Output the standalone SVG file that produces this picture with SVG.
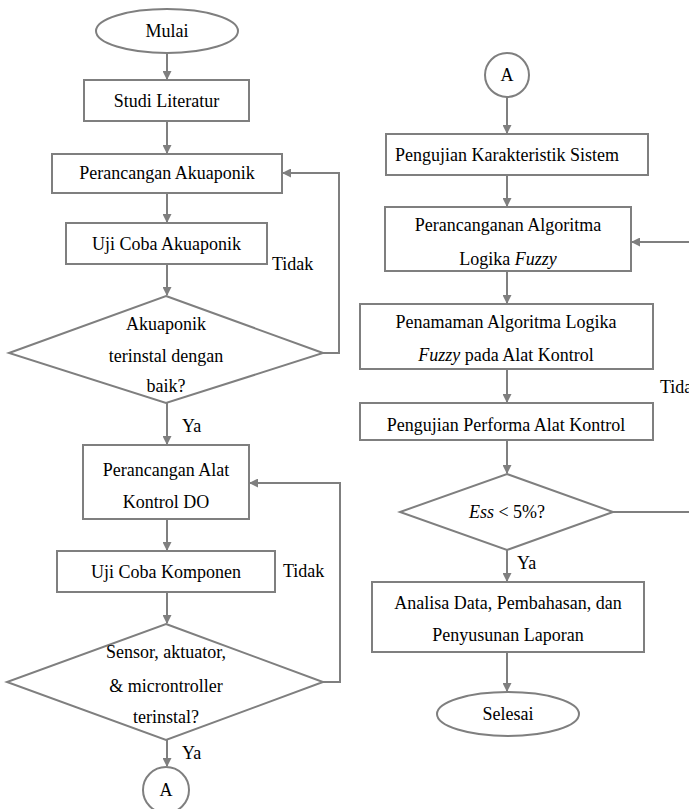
<svg xmlns="http://www.w3.org/2000/svg" width="689" height="809" viewBox="0 0 689 809">
<defs>
<marker id="ah" markerWidth="9" markerHeight="9" refX="8" refY="4.5" orient="auto" markerUnits="userSpaceOnUse"><path d="M0,0 L9,4.5 L0,9 Z" fill="#7f7f7f"/></marker>
</defs>
<rect width="689" height="809" fill="#fff"/>
<g id="connectors" fill="none" stroke="#7f7f7f" stroke-width="2">
<path marker-end="url(#ah)" d="M167,53 V79"/>
<path marker-end="url(#ah)" d="M167,121 V153"/>
<path marker-end="url(#ah)" d="M167,193 V222"/>
<path marker-end="url(#ah)" d="M167,264 V295"/>
<path marker-end="url(#ah)" d="M323,353 H339 V173 H283"/>
<path marker-end="url(#ah)" d="M167,403 V444"/>
<path marker-end="url(#ah)" d="M167,519 V550"/>
<path marker-end="url(#ah)" d="M167,592 V623"/>
<path marker-end="url(#ah)" d="M323,682 H340 V483 H250"/>
<path marker-end="url(#ah)" d="M167,740 V766"/>
<path marker-end="url(#ah)" d="M507,97 V133"/>
<path marker-end="url(#ah)" d="M507,175 V206"/>
<path marker-end="url(#ah)" d="M689,242 H632"/>
<path marker-end="url(#ah)" d="M507,271 V303"/>
<path marker-end="url(#ah)" d="M507,369 V402"/>
<path marker-end="url(#ah)" d="M507,440 V473"/>
<path d="M613,512 H689"/>
<path marker-end="url(#ah)" d="M507,550 V581"/>
<path marker-end="url(#ah)" d="M507,652 V691"/>
</g>
<g id="labels">
<text font-family="Liberation Serif" font-size="18" x="272" y="270">Tidak</text>
<text font-family="Liberation Serif" font-size="18" x="182" y="432">Ya</text>
<text font-family="Liberation Serif" font-size="18" x="283" y="577">Tidak</text>
<text font-family="Liberation Serif" font-size="18" x="182" y="759">Ya</text>
<text font-family="Liberation Serif" font-size="18" x="660" y="393">Tidak</text>
<text font-family="Liberation Serif" font-size="18" x="517" y="569">Ya</text>
</g>
<g id="mulai"><ellipse fill="#fff" stroke="#7f7f7f" stroke-width="2" cx="167" cy="31" rx="71" ry="22"/><text font-family="Liberation Serif" font-size="18" text-anchor="middle" x="167" y="37">Mulai</text></g>
<g id="studi"><rect fill="#fff" stroke="#7f7f7f" stroke-width="2" x="84" y="80" width="165" height="41"/><text font-family="Liberation Serif" font-size="18" text-anchor="middle" x="166.5" y="107">Studi Literatur</text></g>
<g id="perancangan-akuaponik"><rect fill="#fff" stroke="#7f7f7f" stroke-width="2" x="52" y="154" width="230" height="39"/><text font-family="Liberation Serif" font-size="18" text-anchor="middle" x="167" y="179">Perancangan Akuaponik</text></g>
<g id="uji-akuaponik"><rect fill="#fff" stroke="#7f7f7f" stroke-width="2" x="66" y="223" width="201" height="41"/><text font-family="Liberation Serif" font-size="18" text-anchor="middle" x="166.5" y="250">Uji Coba Akuaponik</text></g>
<g id="cek-akuaponik"><polygon fill="#fff" stroke="#7f7f7f" stroke-width="2" points="166,296 323,353 166,403 9,353"/><text font-family="Liberation Serif" font-size="18" text-anchor="middle" x="166" y="330">Akuaponik</text><text font-family="Liberation Serif" font-size="18" text-anchor="middle" x="166" y="362">terinstal dengan</text><text font-family="Liberation Serif" font-size="18" text-anchor="middle" x="166" y="392">baik?</text></g>
<g id="perancangan-alat"><rect fill="#fff" stroke="#7f7f7f" stroke-width="2" x="83" y="445" width="166" height="74"/><text font-family="Liberation Serif" font-size="18" text-anchor="middle" x="166" y="476">Perancangan Alat</text><text font-family="Liberation Serif" font-size="18" text-anchor="middle" x="166" y="508">Kontrol DO</text></g>
<g id="uji-komponen"><rect fill="#fff" stroke="#7f7f7f" stroke-width="2" x="57" y="551" width="218" height="41"/><text font-family="Liberation Serif" font-size="18" text-anchor="middle" x="166" y="578">Uji Coba Komponen</text></g>
<g id="cek-komponen"><polygon fill="#fff" stroke="#7f7f7f" stroke-width="2" points="166,624 323,682 166,740 7,682"/><text font-family="Liberation Serif" font-size="18" text-anchor="middle" x="166" y="658">Sensor, aktuator,</text><text font-family="Liberation Serif" font-size="18" text-anchor="middle" x="166" y="692">&amp; microntroller</text><text font-family="Liberation Serif" font-size="18" text-anchor="middle" x="166" y="723">terinstal?</text></g>
<g id="konektor-a1"><circle fill="#fff" stroke="#7f7f7f" stroke-width="2" cx="166" cy="790" r="23"/><text font-family="Liberation Serif" font-size="18" text-anchor="middle" x="166" y="796">A</text></g>
<g id="konektor-a2"><circle fill="#fff" stroke="#7f7f7f" stroke-width="2" cx="507" cy="75" r="22"/><text font-family="Liberation Serif" font-size="18" text-anchor="middle" x="507" y="81">A</text></g>
<g id="pengujian-karakteristik"><rect fill="#fff" stroke="#7f7f7f" stroke-width="2" x="386" y="134" width="262" height="41"/><text font-family="Liberation Serif" font-size="18" text-anchor="middle" x="507" y="161">Pengujian Karakteristik  Sistem</text></g>
<g id="perancanganan-algoritma"><rect fill="#fff" stroke="#7f7f7f" stroke-width="2" x="385" y="207" width="246" height="64"/><text font-family="Liberation Serif" font-size="18" text-anchor="middle" x="508" y="231">Perancanganan Algoritma</text><text font-family="Liberation Serif" font-size="18" text-anchor="middle" x="508" y="265">Logika <tspan font-style="italic">Fuzzy</tspan></text></g>
<g id="penamaman"><rect fill="#fff" stroke="#7f7f7f" stroke-width="2" x="360" y="304" width="293" height="65"/><text font-family="Liberation Serif" font-size="18" text-anchor="middle" x="506" y="328">Penamaman Algoritma Logika</text><text font-family="Liberation Serif" font-size="18" text-anchor="middle" x="506" y="361"><tspan font-style="italic">Fuzzy</tspan> pada Alat Kontrol</text></g>
<g id="pengujian-performa"><rect fill="#fff" stroke="#7f7f7f" stroke-width="2" x="360" y="403" width="293" height="37"/><text font-family="Liberation Serif" font-size="18" text-anchor="middle" x="506" y="431">Pengujian Performa Alat Kontrol</text></g>
<g id="cek-ess"><polygon fill="#fff" stroke="#7f7f7f" stroke-width="2" points="507,474 613,512 507,550 400,512"/><text font-family="Liberation Serif" font-size="18" text-anchor="middle" x="507" y="518"><tspan font-style="italic">Ess</tspan> &lt; 5%?</text></g>
<g id="analisa"><rect fill="#fff" stroke="#7f7f7f" stroke-width="2" x="372" y="582" width="272" height="70"/><text font-family="Liberation Serif" font-size="18" text-anchor="middle" x="508" y="609">Analisa Data, Pembahasan, dan</text><text font-family="Liberation Serif" font-size="18" text-anchor="middle" x="508" y="641">Penyusunan Laporan</text></g>
<g id="selesai"><ellipse fill="#fff" stroke="#7f7f7f" stroke-width="2" cx="508" cy="714" rx="71" ry="22"/><text font-family="Liberation Serif" font-size="18" text-anchor="middle" x="508" y="720">Selesai</text></g>
</svg>
